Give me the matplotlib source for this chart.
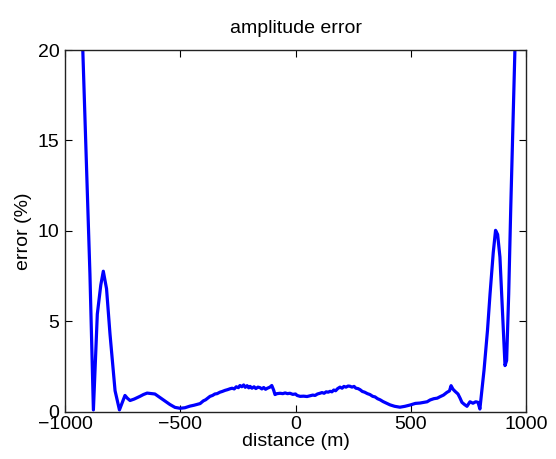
import matplotlib
matplotlib.use('Agg')
import matplotlib.pyplot as plt

# curve (distance in m, error in %)
distance = [-960, -923, -892, -877, -860, -845, -834, -820, -805, -783, -764,
            -752, -740, -730, -718, -700, -675, -660, -644, -625, -610, -590,
            -566, -545, -523, -501, -480, -458, -440, -414, -400, -390, -371,
            -360, -350, -340, -328, -318, -306, -295, -284, -275, -266, -257,
            -248, -241, -233, -225, -218, -210, -203, -197, -189, -180, -172,
            -163, -154, -146, -138, -130, -122, -111, -103, -95, -89, -80, -67,
            -55, -45, -35, -24, -12, 0, 7, 20, 35, 50, 63, 75, 85, 95, 106, 115,
            124, 133, 142, 150, 158, 166, 174, 183, 193, 202, 210, 219, 228,
            236, 245, 254, 262, 271, 280, 290, 300, 312, 323, 335, 345, 356,
            367, 380, 395, 410, 430, 453, 475, 497, 520, 540, 558, 571, 584,
            600, 615, 627, 642, 657, 668, 675, 683, 692, 705, 714, 722, 733,
            744, 757, 770, 782, 792, 800, 818, 833, 844, 858, 868, 877, 887,
            898, 909, 916, 925, 934, 952, 980]
error = [40.0, 20.0, 7.6, 0.1, 5.4, 7.0, 7.77, 6.8, 4.3, 1.16, 0.1,
         0.5, 0.9, 0.75, 0.62, 0.7, 0.85, 0.95, 1.03, 1.0, 0.98, 0.8,
         0.59, 0.4, 0.24, 0.19, 0.22, 0.31, 0.36, 0.45, 0.6, 0.66, 0.85,
         0.9, 0.98, 1.0, 1.08, 1.12, 1.18, 1.22, 1.27, 1.3, 1.26, 1.38,
         1.33, 1.45, 1.38, 1.48, 1.35, 1.44, 1.32, 1.4, 1.3, 1.38, 1.28,
         1.36, 1.33, 1.26, 1.34, 1.24, 1.3, 1.36, 1.45, 1.2, 0.95, 1.0, 1.02,
         1.0, 1.04, 1.0, 1.02, 0.96, 0.98, 0.9, 0.85, 0.86, 0.84, 0.88, 0.92,
         0.9, 0.98, 1.02, 1.06, 1.02, 1.1, 1.08, 1.13, 1.1, 1.2, 1.16, 1.28,
         1.36, 1.3, 1.4, 1.36, 1.42, 1.41, 1.36, 1.4, 1.3, 1.28, 1.22, 1.12,
         1.08, 1.0, 0.95, 0.85, 0.82, 0.72, 0.66, 0.56, 0.47, 0.38, 0.3,
         0.25, 0.3, 0.37, 0.46, 0.48, 0.52, 0.55, 0.65, 0.72, 0.75, 0.83,
         0.92, 1.07, 1.15, 1.44, 1.25, 1.13, 0.98, 0.75, 0.52, 0.4, 0.3, 0.55,
         0.47, 0.55, 0.52, 0.15, 2.3, 4.5, 6.5, 8.8, 10.03, 9.8, 8.55, 5.5,
         2.55, 2.83, 6.5, 11.3, 20.0, 40.0]

fig = plt.figure(figsize=(5.56, 4.59), dpi=100)
plt.rcParams['font.family'] = ['Liberation Sans', 'DejaVu Sans']
ax = fig.add_axes([0.117, 0.103, 0.829, 0.788])
ax.plot(distance, error, color='#0000ff', lw=2.3, solid_joinstyle='round')
ax.set_xlim(-1000, 1000)
ax.set_ylim(0, 20)
ax.set_xticks([-1000, -500, 0, 500, 1000])
ax.set_yticks([0, 5, 10, 15, 20])
ax.set_xticklabels(['\u22121000', '\u2212500', '0', '500', '1000'])
ax.tick_params(direction='in', top=True, right=True, length=5, width=0.8,
               labelsize=14, pad=3)
ax.tick_params(axis='y', pad=4)
for s in ax.spines.values():
    s.set_linewidth(1.0)
    s.set_color('#222222')
ax.set_title('amplitude error', fontsize=14, pad=12)
ax.set_xlabel('distance (m)', fontsize=14, labelpad=0)
ax.set_ylabel('error (%)', fontsize=14, labelpad=4)
fig.savefig('out.png', dpi=100)
